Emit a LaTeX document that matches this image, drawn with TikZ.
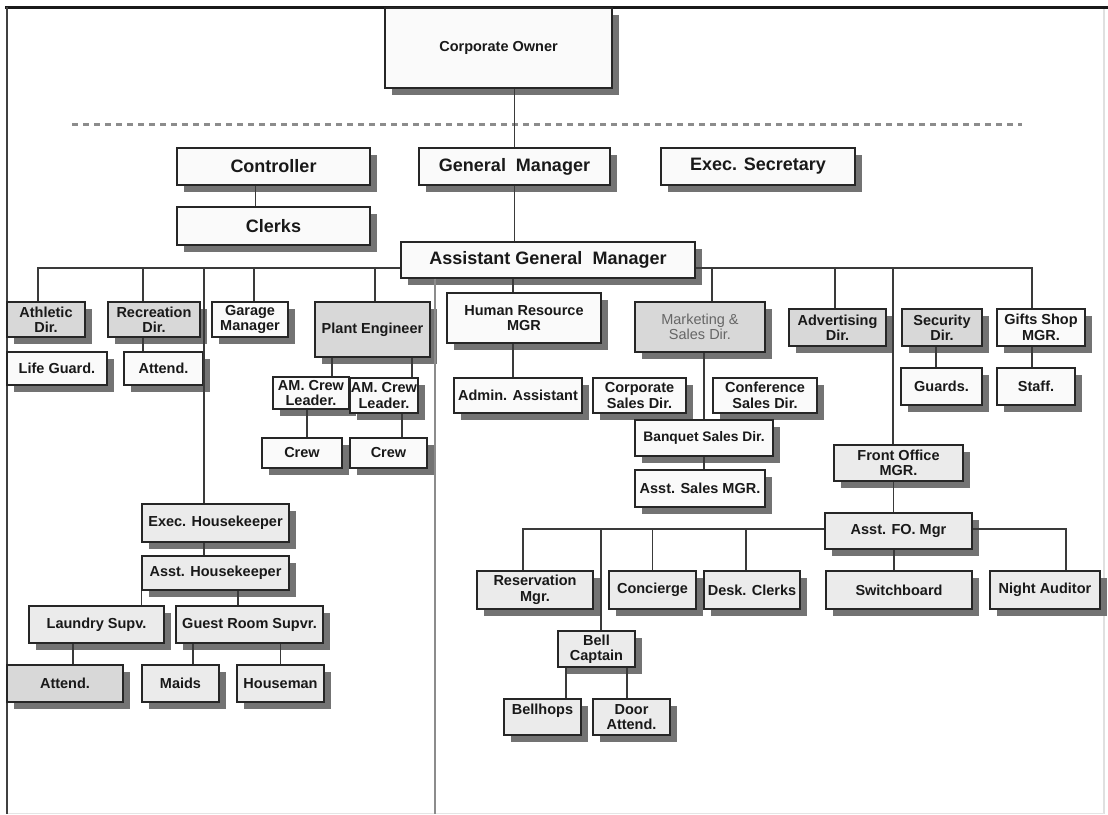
\documentclass[tikz,border=0pt]{standalone}
\usepackage{fontspec}
\setmainfont{Liberation Sans}
\usetikzlibrary{shadows}

\definecolor{boxw}{HTML}{FAFAFA}
\definecolor{boxl}{HTML}{EBEBEB}
\definecolor{boxg}{HTML}{D8D8D8}
\definecolor{linec}{HTML}{3A3A3A}
\definecolor{sepc}{HTML}{8C8C8C}

\tikzset{
  box/.style={draw=black!85, line width=1.3pt, fill=#1, inner sep=1pt, align=center,
    font=\fontsize{14.5}{15.5}\selectfont\bfseries, text=black!90,
    drop shadow={shadow xshift=7pt, shadow yshift=-7pt, fill=black!55, opacity=1}},
  box/.default=boxw,
  sz/.style 2 args={minimum width=#1pt, minimum height=#2pt},
  mid/.style={font=\fontsize{18}{20}\selectfont\bfseries},
  con/.style={draw=linec, line width=1.4pt},
}

\begin{document}
\begin{tikzpicture}[x=1pt,y=-1pt]
  \useasboundingbox (0,0) rectangle (1108,814);
  % frame
  \draw[line width=3pt, black!90] (5,7) -- (1108,7);
  \draw[line width=2.5pt, black!75] (7,7) -- (7,814);
  \draw[line width=1.5pt, black!12] (1104,9) -- (1104,814);
  \draw[line width=1pt, black!10] (8,813) -- (1104,813);
  \draw[sepc, line width=3pt, dash pattern=on 6pt off 5pt] (72,124) -- (1022,124);
  \coordinate (busy) at (0,268);
  \coordinate (fobus) at (0,529);
  \coordinate (sep) at (435,814);

  % top
  \node[box, sz={227}{80}, font=\fontsize{14.5}{16}\selectfont\bfseries] (owner) at (498.5,48) {Corporate Owner};
  \node[box, sz={193}{37}, mid] (ctrl) at (273.5,166.5) {Controller};
  \node[box, sz={191}{37}, mid] (gm) at (514.5,166.5) {General\ \ Manager};
  \node[box, sz={194}{37}, mid] (sec) at (758,166.5) {Exec. Secretary};
  \node[box, sz={193}{38}, mid] (clerks) at (273.5,226) {Clerks};
  \node[box, sz={294}{36}, mid] (agm) at (548,260) {Assistant General\ \ Manager};

  % left branch
  \node[box=boxg, sz={78}{35}] (athl) at (46,319.5) {Athletic\\Dir.};
  \node[box=boxg, sz={92}{35}] (recr) at (154,319.5) {Recreation\\Dir.};
  \node[box, sz={76}{35}] (garage) at (250,319.5) {Garage\\Manager};
  \node[box=boxg, sz={115}{55}] (plant) at (372.5,329.5) {Plant Engineer};
  \node[box, sz={100}{33}] (life) at (57,368.5) {Life Guard.};
  \node[box, sz={79}{33}] (att1) at (163.5,368.5) {Attend.};
  \node[box, sz={76}{32}] (lead1) at (311,393) {AM. Crew\\Leader.};
  \node[box, sz={68}{35}] (lead2) at (384,395.5) {AM. Crew\\Leader.};
  \node[box, sz={80}{30}] (crew1) at (302,453) {Crew};
  \node[box, sz={77}{30}] (crew2) at (388.5,453) {Crew};

  % housekeeping
  \node[box=boxl, sz={147}{38}] (exhk) at (215.5,523) {Exec. Housekeeper};
  \node[box=boxl, sz={147}{34}] (ashk) at (215.5,573) {Asst. Housekeeper};
  \node[box=boxl, sz={135}{37}] (laundry) at (96.5,624.5) {Laundry Supv.};
  \node[box=boxl, sz={147}{37}] (guest) at (249.5,624.5) {Guest Room Supvr.};
  \node[box=boxg, sz={116}{37}] (att2) at (65,683.5) {Attend.};
  \node[box=boxl, sz={77}{37}] (maids) at (180.5,683.5) {Maids};
  \node[box=boxl, sz={87}{37}] (house) at (280.5,683.5) {Houseman};

  % middle
  \node[box, sz={154}{50}] (hr) at (524,318) {Human Resource\\MGR};
  \node[box, sz={128}{35}] (admin) at (518,395.5) {Admin. Assistant};
  \node[box=boxg, sz={130}{50}, font=\fontsize{14.5}{15.5}\selectfont, text=black!60] (mkt) at (700,327) {Marketing \&\\Sales Dir.};
  \node[box, sz={93}{35}] (corp) at (639.5,395.5) {Corporate\\Sales Dir.};
  \node[box, sz={104}{35}] (conf) at (765,395.5) {Conference\\Sales Dir.};
  \node[box, sz={138}{36}, font=\fontsize{13.8}{15}\selectfont\bfseries] (banq) at (704,438) {Banquet Sales Dir.};
  \node[box, sz={130}{37}] (asales) at (700,488.5) {Asst. Sales MGR.};

  % right
  \node[box=boxg, sz={97}{37}] (adv) at (837.5,327.5) {Advertising\\Dir.};
  \node[box=boxg, sz={80}{37}] (secu) at (942,327.5) {Security\\Dir.};
  \node[box, sz={88}{37}] (gifts) at (1041,327.5) {Gifts Shop\\MGR.};
  \node[box, sz={81}{37}] (guards) at (941.5,386.5) {Guards.};
  \node[box, sz={78}{37}] (staff) at (1036,386.5) {Staff.};

  % front office
  \node[box=boxl, sz={129}{36}] (fo) at (898.5,463) {Front Office\\MGR.};
  \node[box=boxl, sz={147}{36}] (afo) at (898.5,531) {Asst. FO. Mgr};
  \node[box=boxl, sz={116}{38}] (resv) at (535,590) {Reservation\\Mgr.};
  \node[box=boxl, sz={87}{38}] (conc) at (652.5,590) {Concierge};
  \node[box=boxl, sz={96}{38}] (desk) at (752,590) {Desk. Clerks};
  \node[box=boxl, sz={146}{38}] (switch) at (899,590) {Switchboard};
  \node[box=boxl, sz={110}{38}] (night) at (1045,590) {Night Auditor};
  \node[box=boxl, sz={77}{36}] (bell) at (596.5,649) {Bell\\Captain};
  \node[box=boxl, sz={77}{36}] (hops) at (542.5,717) {Bellhops\\\mbox{}};
  \node[box=boxl, sz={77}{36}] (door) at (631.5,717) {Door\\Attend.};

  % connectors
  \draw[con] (gm.north) -- (gm.north |- owner.south);
  \draw[con] (gm.south) -- (gm.south |- agm.north);
  \draw[con] ([xshift=-18pt]ctrl.south) -- ([xshift=-18pt]clerks.north);
  \draw[sepc, line width=2pt] (sep |- agm.south) -- (sep);
  % left bus
  \draw[con] (agm.west |- busy) -| ([xshift=-8pt]athl.north);
  \draw[con] ([xshift=-11pt]recr.north) -- ([xshift=-11pt]recr.north |- busy);
  \draw[con] ([xshift=4pt]garage.north) -- ([xshift=4pt]garage.north |- busy);
  \draw[con] ([xshift=2.5pt]plant.north) -- ([xshift=2.5pt]plant.north |- busy);
  \draw[con] ([xshift=-11.5pt]exhk.north) -- ([xshift=-11.5pt]exhk.north |- busy);
  \draw[con] ([xshift=-11pt]recr.south) -- ([xshift=-11pt]recr.south |- att1.north);
  \draw[con] ([xshift=21pt]lead1.north) -- ([xshift=21pt]lead1.north |- plant.south);
  \draw[con] ([xshift=28pt]lead2.north) -- ([xshift=28pt]lead2.north |- plant.south);
  \draw[con] ([xshift=5pt]crew1.north) -- ([xshift=5pt]crew1.north |- lead1.south);
  \draw[con] ([xshift=13.5pt]crew2.north) -- ([xshift=13.5pt]crew2.north |- lead2.south);
  \draw[con] ([xshift=-11.5pt]exhk.south) -- ([xshift=-11.5pt]ashk.north);
  \draw[con] (ashk.south west) -- (ashk.south west |- laundry.north);
  \draw[con] ([xshift=-11.5pt]guest.north) -- ([xshift=-11.5pt]guest.north |- ashk.south);
  \draw[con] ([xshift=8pt]att2.north) -- ([xshift=8pt]att2.north |- laundry.south);
  \draw[con] ([xshift=12.5pt]maids.north) -- ([xshift=12.5pt]maids.north |- guest.south);
  \draw[con] (house.north) -- (house.north |- guest.south);
  % right bus
  \draw[con] (agm.east |- busy) -| ([xshift=-9pt]gifts.north);
  \draw[con] ([xshift=12pt]mkt.north) -- ([xshift=12pt]mkt.north |- busy);
  \draw[con] ([xshift=-2.5pt]adv.north) -- ([xshift=-2.5pt]adv.north |- busy);
  \draw[con] ([xshift=-5.5pt]fo.north) -- ([xshift=-5.5pt]fo.north |- busy);
  \draw[con] ([xshift=-11pt]hr.north) -- ([xshift=-11pt]hr.north |- agm.south);
  \draw[con] ([xshift=-5pt]admin.north) -- ([xshift=-5pt]admin.north |- hr.south);
  \draw[con, line width=2pt] (banq.north) -- (banq.north |- mkt.south);
  \draw[con] (banq.south) -- (banq.south |- asales.north);
  \draw[con] ([xshift=-5.5pt]guards.north) -- ([xshift=-5.5pt]guards.north |- secu.south);
  \draw[con] ([xshift=-4pt]staff.north) -- ([xshift=-4pt]staff.north |- gifts.south);
  % front office bus
  \draw[con] ([xshift=-5pt]fo.south) -- ([xshift=-5pt]afo.north);
  \draw[con] (afo.west |- fobus) -| ([xshift=-12pt]resv.north);
  \draw[con] (afo.east |- fobus) -| ([xshift=21pt]night.north);
  \draw[con] ([xshift=4.5pt]bell.north) -- ([xshift=4.5pt]bell.north |- fobus);
  \draw[con] (conc.north) -- (conc.north |- fobus);
  \draw[con] ([xshift=-6pt]desk.north) -- ([xshift=-6pt]desk.north |- fobus);
  \draw[con] ([xshift=-5pt]switch.north) -- ([xshift=-5pt]switch.north |- afo.south);
  \draw[con] ([xshift=23.5pt]hops.north) -- ([xshift=23.5pt]hops.north |- bell.south);
  \draw[con] ([xshift=-4.5pt]door.north) -- ([xshift=-4.5pt]door.north |- bell.south);
\end{tikzpicture}
\end{document}
